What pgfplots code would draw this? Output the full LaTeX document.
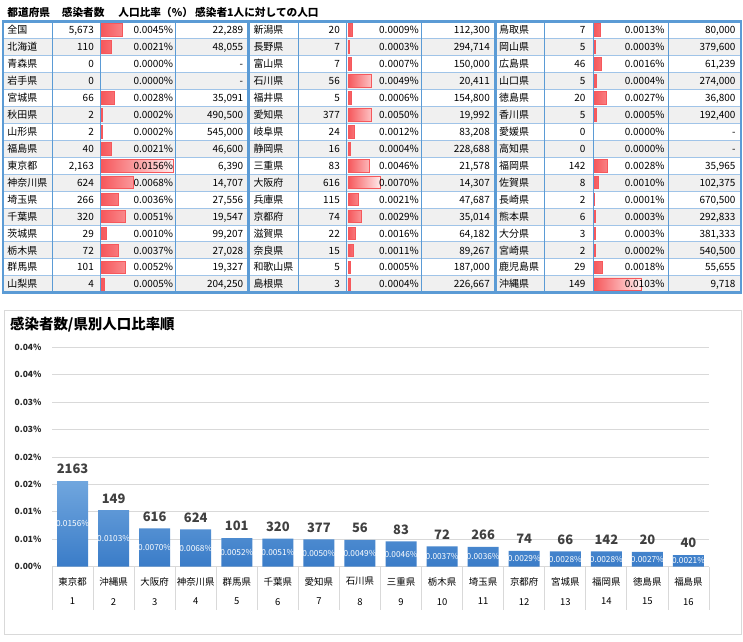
\documentclass[border=0pt]{standalone}
\usepackage{fontspec}
\setmainfont{Noto Sans CJK JP}
\usepackage{pgfplots}
\pgfplotsset{compat=1.18}
\usepackage{pgfplotstable}

\definecolor{tblue}{RGB}{91,155,213}
\definecolor{tline}{RGB}{160,196,232}
\definecolor{rowgray}{RGB}{240,240,240}
\definecolor{dbred}{RGB}{246,88,92}
\definecolor{dbpink}{RGB}{255,236,236}
\definecolor{bartop}{RGB}{112,166,222}
\definecolor{barbot}{RGB}{58,124,200}
\definecolor{gridgray}{RGB}{217,217,217}
\definecolor{txtgray}{RGB}{64,64,64}

\newcommand\fs[1]{\fontsize{#1}{#1}\selectfont}

% data bars of the table, row number (1 = top) and ratio in %
\pgfplotstableread{
row pct
1 0.0045
2 0.0021
5 0.0028
6 0.0002
7 0.0002
8 0.0021
9 0.0156
10 0.0068
11 0.0036
12 0.0051
13 0.0010
14 0.0037
15 0.0052
16 0.0005
}\barsA
\pgfplotstableread{
row pct
1 0.0009
2 0.0003
3 0.0007
4 0.0049
5 0.0006
6 0.0050
7 0.0012
8 0.0004
9 0.0046
10 0.0070
11 0.0021
12 0.0029
13 0.0016
14 0.0011
15 0.0005
16 0.0004
}\barsB
\pgfplotstableread{
row pct
1 0.0013
2 0.0003
3 0.0016
4 0.0004
5 0.0027
6 0.0005
9 0.0028
10 0.0010
11 0.0001
12 0.0003
13 0.0003
14 0.0002
15 0.0018
16 0.0103
}\barsC

% ranking chart
\pgfplotstableread{
pos count pct
1 2163 0.0156
2 149 0.0103
3 616 0.0070
4 624 0.0068
5 101 0.0052
6 320 0.0051
7 377 0.0050
8 56 0.0049
9 83 0.0046
10 72 0.0037
11 266 0.0036
12 74 0.0029
13 66 0.0028
14 142 0.0028
15 20 0.0027
16 40 0.0021
}\ranking

% one block of the table: name x, count right, pct right, pop right, rows
\newcommand\tgroup[5]{%
  \foreach \n/\c/\p/\q [count=\i from 0] in {#5} {
    \pgfmathsetmacro\yb{21.5+(\i+0.5)*16.95+3.7}
    \node[anchor=base west] at (#1,\yb) {\n};
    \node[anchor=base east] at (#2,\yb) {\c};
    \node[anchor=base east] at (#3,\yb) {\p\%};
    \node[anchor=base east] at (#4,\yb) {\q};
  }}

\pgfplotsset{databar/.style={
    at={(#1bp,349.3bp)}, anchor=south west,
    scale only axis, width=74bp, height=271.2bp,
    xmin=0, xmax=0.0161, ymin=0.5, ymax=16.5,
    y dir=reverse, hide axis, clip=false}}

\begin{document}
\begin{tikzpicture}
\path[use as bounding box] (0,0) rectangle (743bp,642bp);

\begin{scope}[x=1bp,y=-1bp,yshift=642bp]
  \foreach \i in {1,3,...,15}
    \fill[rowgray] (3,{21.5+\i*16.95}) rectangle (741,{21.5+(\i+1)*16.95});
  \foreach \i in {1,...,15}
    \draw[tline,line width=0.7bp] (3,{21.5+\i*16.95}) -- (741,{21.5+\i*16.95});
  \foreach \x in {52.3,100.7,175.7,298.3,346.7,421.7,544.7,593,668}
    \draw[tblue,line width=0.8bp] (\x,21.5) -- (\x,292.7);
  \foreach \x in {248.5,495.5}
    \draw[tblue,line width=2.5bp] (\x,21.5) -- (\x,292.7);
  \draw[tblue,line width=2.5bp] (3,21.5) rectangle (741,292.7);

  \draw[gridgray,line width=0.8bp] (4.5,310) rectangle (741.5,634.5);
  \node[anchor=base west,inner sep=0] at (10,329.5)
    {\fs{14.5}\bfseries 感染者数/県別人口比率順};
\end{scope}

\begin{axis}[databar=101.7]
  \addplot[xbar, bar width=12.5bp, left color=dbred, right color=dbpink,
    draw=dbred, line width=0.6bp] table[x=pct, y=row] {\barsA};
\end{axis}
\begin{axis}[databar=348.3]
  \addplot[xbar, bar width=12.5bp, left color=dbred, right color=dbpink,
    draw=dbred, line width=0.6bp] table[x=pct, y=row] {\barsB};
\end{axis}
\begin{axis}[databar=594]
  \addplot[xbar, bar width=12.5bp, left color=dbred, right color=dbpink,
    draw=dbred, line width=0.6bp] table[x=pct, y=row] {\barsC};
\end{axis}

\begin{scope}[x=1bp,y=-1bp,yshift=642bp,inner sep=0]
  \begin{scope}[font=\fs{10.7}\bfseries]
    \node[anchor=base west] at (7.3,16.7) {都道府県};
    \node[anchor=base west] at (61.7,16.7) {感染者数};
    \node[anchor=base west] at (118.3,16.7) {人口比率（\%）};
    \node[anchor=base west] at (195,16.7) {感染者1人に対しての人口};
  \end{scope}
  \begin{scope}[font=\fs{10}]
  \tgroup{7.3}{94}{173.3}{243.3}{全国/{5,673}/0.0045/{22,289},
    北海道/110/0.0021/{48,055}, 青森県/0/0.0000/-, 岩手県/0/0.0000/-,
    宮城県/66/0.0028/{35,091}, 秋田県/2/0.0002/{490,500},
    山形県/2/0.0002/{545,000}, 福島県/40/0.0021/{46,600},
    東京都/{2,163}/0.0156/{6,390}, 神奈川県/624/0.0068/{14,707},
    埼玉県/266/0.0036/{27,556}, 千葉県/320/0.0051/{19,547},
    茨城県/29/0.0010/{99,207}, 栃木県/72/0.0037/{27,028},
    群馬県/101/0.0052/{19,327}, 山梨県/4/0.0005/{204,250}}
  \tgroup{253.3}{340}{419}{490}{新潟県/20/0.0009/{112,300},
    長野県/7/0.0003/{294,714}, 富山県/7/0.0007/{150,000},
    石川県/56/0.0049/{20,411}, 福井県/5/0.0006/{154,800},
    愛知県/377/0.0050/{19,992}, 岐阜県/24/0.0012/{83,208},
    静岡県/16/0.0004/{228,688}, 三重県/83/0.0046/{21,578},
    大阪府/616/0.0070/{14,307}, 兵庫県/115/0.0021/{47,687},
    京都府/74/0.0029/{35,014}, 滋賀県/22/0.0016/{64,182},
    奈良県/15/0.0011/{89,267}, 和歌山県/5/0.0005/{187,000},
    島根県/3/0.0004/{226,667}}
  \tgroup{499}{585.7}{664.7}{735.7}{鳥取県/7/0.0013/{80,000},
    岡山県/5/0.0003/{379,600}, 広島県/46/0.0016/{61,239},
    山口県/5/0.0004/{274,000}, 徳島県/20/0.0027/{36,800},
    香川県/5/0.0005/{192,400}, 愛媛県/0/0.0000/-, 高知県/0/0.0000/-,
    福岡県/142/0.0028/{35,965}, 佐賀県/8/0.0010/{102,375},
    長崎県/2/0.0001/{670,500}, 熊本県/6/0.0003/{292,833},
    大分県/3/0.0003/{381,333}, 宮崎県/2/0.0002/{540,500},
    鹿児島県/29/0.0018/{55,655}, 沖縄県/149/0.0103/{9,718}}
  \end{scope}
\end{scope}

\begin{axis}[
  at={(52bp,75.3bp)}, anchor=south west,
  scale only axis, width=657bp, height=219.4bp,
  xmin=0.5, xmax=16.5, ymin=0, ymax=0.04,
  scaled y ticks=false,
  ytick={0,0.005,0.01,0.015,0.02,0.025,0.03,0.035,0.04},
  yticklabels={0.00\%,0.01\%,0.01\%,0.02\%,0.02\%,0.03\%,0.03\%,0.04\%,0.04\%},
  yticklabel style={font=\fs{8.5}\bfseries, text=black!85, xshift=-7bp},
  ymajorgrids, grid style={gridgray, line width=0.8bp},
  axis line style={draw=none},
  major tick length=0, xtick pos=bottom, ytick pos=left,
  xtick={1,...,16},
  xticklabels={東京都,沖縄県,大阪府,神奈川県,群馬県,千葉県,愛知県,石川県,
    三重県,栃木県,埼玉県,京都府,宮城県,福岡県,徳島県,福島県},
  xticklabel style={font=\fs{9.5}, text=black, yshift=-7bp},
  minor xtick={0.5,1.5,...,16.5}, minor tick length=43bp, tick align=outside,
  minor tick style={gridgray, line width=0.8bp},
  extra x ticks={1,...,16},
  extra x tick labels={1,2,3,4,5,6,7,8,9,10,11,12,13,14,15,16},
  extra x tick style={major tick length=0,
    tick label style={font=\fs{7.5}\bfseries, yshift=-21bp}},
  clip=false,
]
  \addplot[ybar, bar width=31bp, draw=none, top color=bartop, bottom color=barbot]
    table[x=pos, y=pct] {\ranking};
  \addplot[draw=none, mark=none, point meta=explicit symbolic,
    nodes near coords={\pgfplotspointmeta},
    every node near coord/.append style={anchor=south, yshift=3.5bp,
      font=\fs{13}\bfseries, text=txtgray}]
    table[x=pos, y=pct, meta=count] {\ranking};
  \addplot[draw=none, mark=none, point meta=explicit symbolic,
    nodes near coords={\pgfplotspointmeta\%},
    every node near coord/.append style={anchor=center,
      font=\fs{8.3}, text=white}]
    table[x=pos, y expr=\thisrow{pct}/2, meta=pct] {\ranking};
\end{axis}
\end{tikzpicture}
\end{document}
